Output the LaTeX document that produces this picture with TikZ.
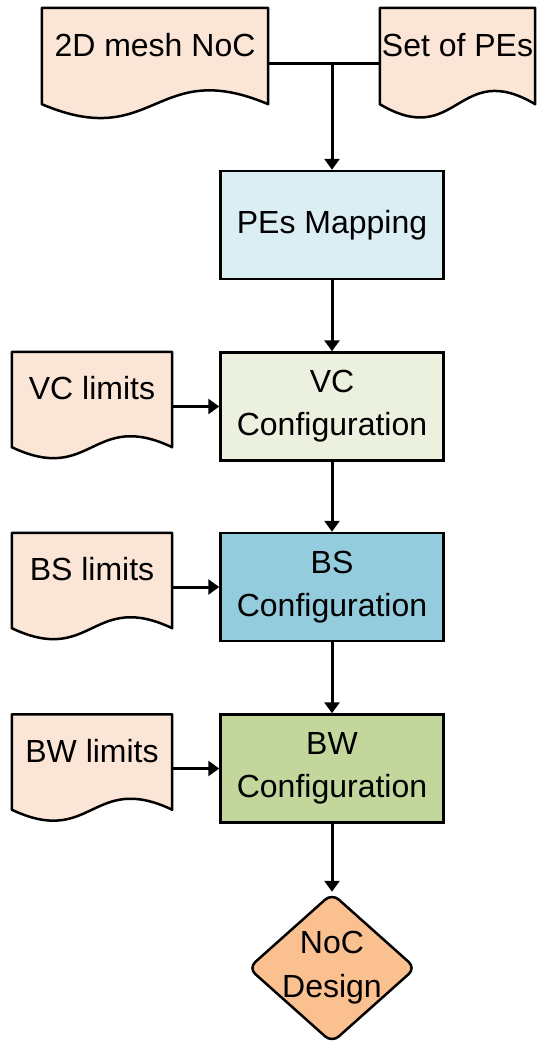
\documentclass[tikz,border=0pt]{standalone}
\usepackage{fontspec}
\setmainfont{Liberation Sans}
\usetikzlibrary{arrows.meta,calc,shapes.geometric,backgrounds}

\definecolor{docfill}{HTML}{FBE5D6}
\definecolor{mapfill}{HTML}{DBEEF4}
\definecolor{vcfill}{HTML}{EBF1DE}
\definecolor{bsfill}{HTML}{93CDDD}
\definecolor{bwfill}{HTML}{C3D69B}
\definecolor{endfill}{HTML}{FAC090}

% document symbol: flat top, wavy bottom drawn below the node's text area
\newcommand\docsymbol[2]{%
  \draw[docline] (#1.north west) -- (#1.north east) -- (#1.south east)
    .. controls ($(#1.south)+(0,-#2)$) and ($(#1.south)+(0,#2)$) .. (#1.south west) -- cycle;}

\begin{document}
\begin{tikzpicture}[x=1pt,y=-1pt,
  every node/.style={font=\fontsize{32}{43}\selectfont},
  docbox/.style={inner xsep=0pt,inner ysep=0pt,text height=24pt,text depth=24pt,align=center},
  docline/.style={draw=black,line width=2.5pt,fill=docfill,line join=round},
  procbox/.style={draw=black,line width=2.5pt,minimum width=223pt,minimum height=108pt,align=center,inner sep=0pt},
  endbox/.style={diamond,draw=black,line width=2.5pt,fill=endfill,minimum width=168pt,minimum height=150pt,inner sep=0pt,rounded corners=9pt},
  flow/.style={line width=3pt,-{Triangle[length=11pt,width=15pt]}},
  link/.style={line width=3pt}]

\useasboundingbox (0,0) rectangle (540,1042);

% inputs
\node[docbox,minimum width=226pt,minimum height=96pt] (mesh) at (155,56) {2D mesh NoC};
\node[docbox,minimum width=155pt,minimum height=96pt] (pes) at (457.5,56) {Set of PEs};
\node[docbox,minimum width=160pt,minimum height=95pt] (vclim) at (92,399.5) {VC limits};
\node[docbox,minimum width=160pt,minimum height=95pt] (bslim) at (92,580.5) {BS limits};
\node[docbox,minimum width=160pt,minimum height=95pt] (bwlim) at (92,762) {BW limits};

% process steps
\node[procbox,fill=mapfill] (map) at (332,225) {PEs Mapping};
\node[procbox,fill=vcfill] (vc) at (332,406.5) {VC\\Configuration};
\node[procbox,fill=bsfill] (bs) at (332,587) {BS\\Configuration};
\node[procbox,fill=bwfill] (bw) at (332,768.5) {BW\\Configuration};

% result
\node[endbox,label={[align=center,font=\fontsize{32}{44}\selectfont]center:NoC\\Design}] (noc) at (332,968) {};

\begin{pgfonlayer}{background}
  \docsymbol{mesh}{48}
  \docsymbol{pes}{46}
  \docsymbol{vclim}{38}
  \docsymbol{bslim}{38}
  \docsymbol{bwlim}{38}
\end{pgfonlayer}

% connectors
\coordinate (join) at (332,63);
\draw[link] (mesh.east |- join) -- (pes.west |- join);
\draw[flow] (join) -- (map.north);
\draw[flow] (map.south) -- (vc.north);
\draw[flow] (vc.south) -- (bs.north);
\draw[flow] (bs.south) -- (bw.north);
\draw[flow] (bw.south) -- (noc.north);
\draw[flow] (vclim.east |- vc.west) -- (vc.west);
\draw[flow] (bslim.east |- bs.west) -- (bs.west);
\draw[flow] (bwlim.east |- bw.west) -- (bw.west);
\end{tikzpicture}
\end{document}
